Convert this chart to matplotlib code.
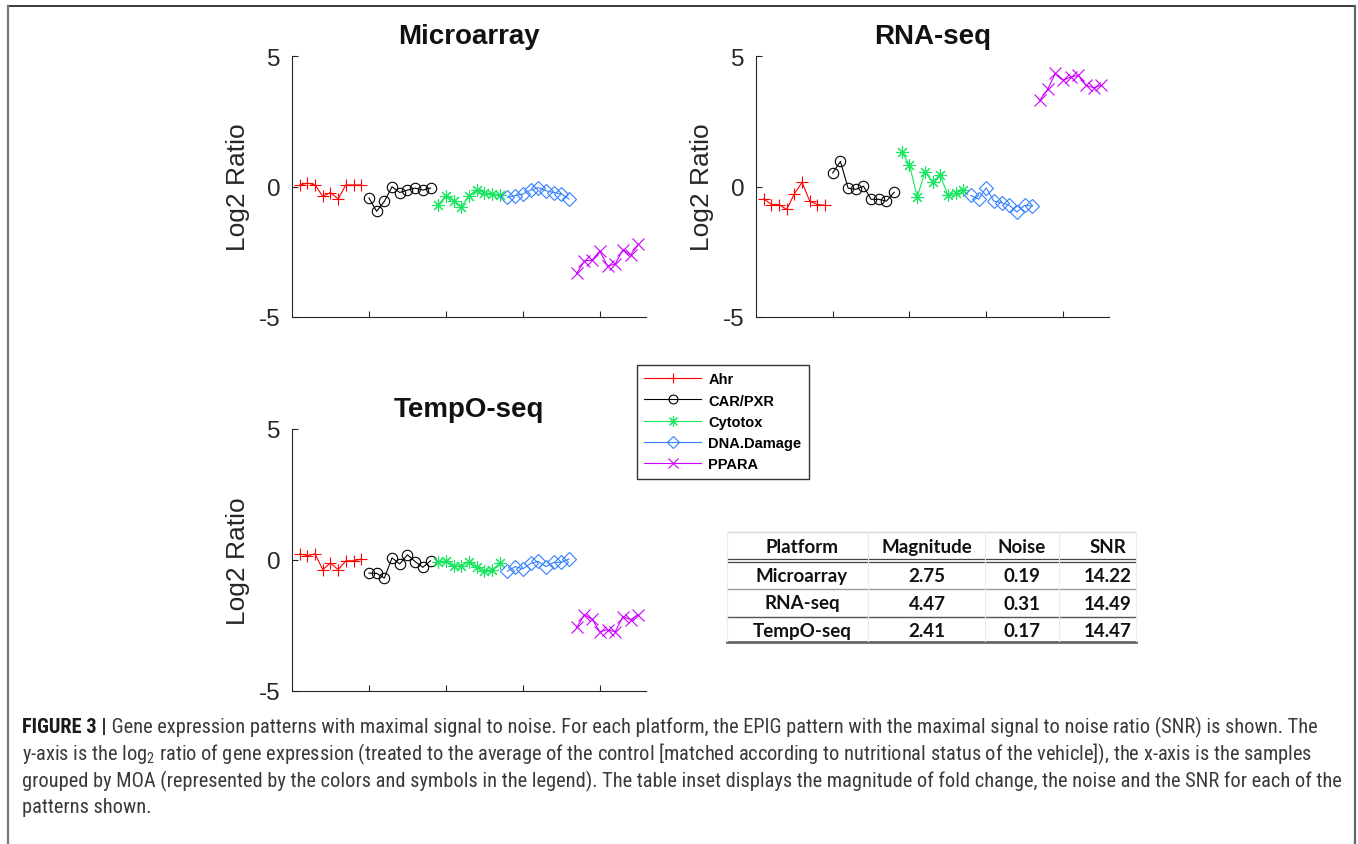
import numpy as np
import matplotlib
matplotlib.use("Agg")
import matplotlib.pyplot as plt
from matplotlib.lines import Line2D
from matplotlib import font_manager as fm

plt.rcParams['axes.unicode_minus'] = False

# ---------------- data ----------------
groups = ["Ahr", "CAR/PXR", "Cytotox", "DNA.Damage", "PPARA"]
colors = ["#ff0000", "#000000", "#19e660", "#3380ff", "#cc00ff"]
markers = ["+", "o", (8, 2, 0), "D", "x"]

micro_ahr = [0.05, 0.13, 0.06, -0.38, -0.23, -0.48, 0.06, 0.06, 0.06]
micro_car = [-0.44, -0.95, -0.57, -0.01, -0.23, -0.14, -0.06, -0.14, -0.06]
micro_cyto = [-0.71, -0.35, -0.54, -0.77, -0.35, -0.14, -0.23, -0.29, -0.32]
micro_dna = [-0.42, -0.35, -0.29, -0.14, -0.04, -0.16, -0.23, -0.29, -0.48]
micro_ppara = [-3.33, -2.85, -2.82, -2.47, -3.05, -2.97, -2.42, -2.63, -2.22]

rna_ahr = [-0.47, -0.69, -0.69, -0.88, -0.28, 0.16, -0.56, -0.69, -0.72]
rna_car = [0.52, 0.96, -0.06, -0.11, 0.01, -0.49, -0.49, -0.56, -0.22]
rna_cyto = [1.31, 0.84, -0.41, 0.55, 0.19, 0.44, -0.34, -0.25, -0.13]
rna_dna = [-0.34, -0.49, -0.05, -0.56, -0.62, -0.72, -0.98, -0.72, -0.75]
rna_ppara = [3.31, 3.72, 4.33, 4.07, 4.19, 4.26, 3.88, 3.78, 3.88]

tempo_ahr = [0.23, 0.17, 0.23, -0.37, -0.11, -0.37, -0.03, -0.03, 0.04]
tempo_car = [-0.50, -0.51, -0.69, 0.08, -0.15, 0.20, -0.06, -0.28, -0.03]
tempo_cyto = [-0.09, -0.03, -0.24, -0.22, -0.06, -0.28, -0.41, -0.38, -0.13]
tempo_dna = [-0.43, -0.25, -0.34, -0.13, -0.05, -0.25, -0.09, -0.09, 0.04]
tempo_ppara = [-2.57, -2.09, -2.26, -2.74, -2.66, -2.74, -2.16, -2.28, -2.09]

platform_titles = ["Microarray", "RNA-seq", "TempO-seq"]
yticks = [-5, 0, 5]
xticks = [10, 20, 30, 40]

tbl_header = ["Platform", "Magnitude", "Noise", "SNR"]
tbl_platform = ["Microarray", "RNA-seq", "TempO-seq"]
tbl_magnitude = ["2.75", "4.47", "2.41"]
tbl_noise = ["0.19", "0.31", "0.17"]
tbl_snr = ["14.22", "14.49", "14.47"]

caption_bold = "FIGURE 3 |"
caption_lines = [
    " Gene expression patterns with maximal signal to noise. For each platform, the EPIG pattern with the maximal signal to noise ratio (SNR) is shown. The",
    r"y-axis is the log$_\mathregular{2}$ ratio of gene expression (treated to the average of the control [matched according to nutritional status of the vehicle]), the x-axis is the samples",
    "grouped by MOA (represented by the colors and symbols in the legend). The table inset displays the magnitude of fold change, the noise and the SNR for each of the",
    "patterns shown.",
]

series = {
    "Microarray": [micro_ahr, micro_car, micro_cyto, micro_dna, micro_ppara],
    "RNA-seq": [rna_ahr, rna_car, rna_cyto, rna_dna, rna_ppara],
    "TempO-seq": [tempo_ahr, tempo_car, tempo_cyto, tempo_dna, tempo_ppara],
}

# ---------------- figure ----------------
W, H = 1358, 845
fig = plt.figure(figsize=(W / 100, H / 100), dpi=100)
fig.patch.set_facecolor("white")

SANS = ["Liberation Sans", "DejaVu Sans"]
AXC = "#262626"


def fbox(x0, y0, x1, y1):
    return [x0 / W, 1 - y1 / H, (x1 - x0) / W, (y1 - y0) / H]


axes_px = {
    "Microarray": (292, 57, 646, 318),
    "RNA-seq": (756, 57, 1109, 318),
    "TempO-seq": (292, 430, 646, 692),
}

msizes = [9, 7.5, 9, 7, 8]
handles = []
for name in platform_titles:
    ax = fig.add_axes(fbox(*axes_px[name]))
    vals = series[name]
    start = 1
    for gi, g in enumerate(groups):
        y = vals[gi]
        x = np.arange(start, start + len(y))
        start += len(y)
        ln, = ax.plot(x, y, color=colors[gi], marker=markers[gi], ms=msizes[gi],
                      mfc="none", mec=colors[gi], mew=0.8, lw=0.8, label=g)
        if name == "Microarray":
            handles.append(ln)
    ax.set_xlim(0, 46)
    ax.set_ylim(-5, 5)
    ax.set_yticks(yticks)
    ax.set_yticklabels([str(v) for v in yticks])
    ax.set_xticks(xticks)
    ax.set_xticklabels([])
    for s in ["top", "right"]:
        ax.spines[s].set_visible(False)
    for s in ["left", "bottom"]:
        ax.spines[s].set_color(AXC)
        ax.spines[s].set_linewidth(0.8)
    ax.tick_params(direction="in", length=4, width=0.8, color=AXC,
                   labelsize=17.5, labelcolor=AXC, pad=8)
    for lab in ax.get_yticklabels():
        lab.set_family(SANS)
    ax.set_title(name, fontsize=20, fontweight="bold", family=SANS, pad=9, color="#111111")
    ax.set_ylabel("Log2 Ratio", fontsize=19, family=SANS, color=AXC)
    ax.yaxis.set_label_coords(-0.118, 0.5)

# ---------------- legend ----------------
leg = fig.legend(handles=handles, labels=groups, loc="upper left",
                 bbox_to_anchor=(637 / W, 1 - 366 / H), borderaxespad=0,
                 fancybox=False, edgecolor="#333333", framealpha=1,
                 prop=fm.FontProperties(family=SANS, weight="bold", size=10.5),
                 handlelength=3.9, handletextpad=0.5, labelspacing=0.5,
                 borderpad=0.5, numpoints=1, markerscale=0.85)
leg.get_frame().set_linewidth(1.0)

# ---------------- table ----------------
TF = ["Lato", "DejaVu Sans"]
col_x = [802, 927, 1022, 1108]
row_y = [548, 577, 604, 632]
tx0, tx1 = 727, 1136


def hline(y, color, lw):
    fig.add_artist(Line2D([tx0 / W, tx1 / W], [1 - y / H, 1 - y / H],
                          transform=fig.transFigure, color=color, lw=lw))


hline(533, "#d8d8d8", 1.0)
hline(559.5, "#444444", 0.9)
hline(562.5, "#444444", 0.9)
hline(590, "#9a9a9a", 1.0)
hline(618, "#555555", 1.0)
hline(642.5, "#666666", 2.0)
for xv in [727, 868, 985, 1059, 1136]:
    fig.add_artist(Line2D([xv / W, xv / W], [1 - 533 / H, 1 - 642 / H],
                          transform=fig.transFigure, color="#ececec", lw=0.8))

for ci, h in enumerate(tbl_header):
    fig.text(col_x[ci] / W, 1 - row_y[0] / H, h, ha="center", va="center",
             fontsize=13.5, fontweight="bold", family=TF, color="#111111")
columns = [tbl_platform, tbl_magnitude, tbl_noise, tbl_snr]
for ci, col in enumerate(columns):
    for ri, v in enumerate(col):
        fig.text(col_x[ci] / W, 1 - row_y[ri + 1] / H, v, ha="center", va="center",
                 fontsize=13.5, fontweight="bold", family=TF, color="#111111")

# ---------------- frame ----------------
fr = dict(transform=fig.transFigure, clip_on=False)
fig.add_artist(Line2D([8 / W, 1355 / W], [1 - 7 / H, 1 - 7 / H], color="#2a2a2a", lw=1.3, **fr))
fig.add_artist(Line2D([8 / W, 8 / W], [1 - 7 / H, -0.02], color="#777777", lw=1.6, **fr))
fig.add_artist(Line2D([1355 / W, 1355 / W], [1 - 7 / H, -0.02], color="#666666", lw=1.6, **fr))

# ---------------- caption ----------------
avail = {f.name for f in fm.fontManager.ttflist}
capfam = None
for cand in ["Liberation Sans Narrow", "Roboto Condensed", "Roboto"]:
    if cand in avail:
        capfam = cand
        break
if capfam is None:
    capfam = "DejaVu Sans"

renderer = fig.canvas.get_renderer()
x0_px = 22
line_right = {0: 1340, 2: 1338}
baselines = [733, 760, 787, 813]


def line_width(i, size):
    p = fig.text(0, 0, caption_lines[i], fontsize=size, family=capfam)
    w = p.get_window_extent(renderer).width
    p.remove()
    if i == 0:
        pb = fig.text(0, 0, caption_bold, fontsize=size, fontweight="bold", family=capfam)
        w += pb.get_window_extent(renderer).width
        pb.remove()
    return w


fs = 10.0
for _ in range(4):
    fs = min(fs * (rx - x0_px) / line_width(i, fs) for i, rx in line_right.items())

tb = fig.text(x0_px / W, 1 - baselines[0] / H, caption_bold, fontsize=fs, fontweight="bold",
              family=capfam, color="#1a1a1a", va="baseline")
wb = tb.get_window_extent(renderer).width
fig.text((x0_px + wb) / W, 1 - baselines[0] / H, caption_lines[0], fontsize=fs,
         family=capfam, color="#3a3a3a", va="baseline")
for i in range(1, 4):
    fig.text(x0_px / W, 1 - baselines[i] / H, caption_lines[i], fontsize=fs,
             family=capfam, color="#3a3a3a", va="baseline")

fig.savefig("out.png", dpi=100, facecolor="white")
